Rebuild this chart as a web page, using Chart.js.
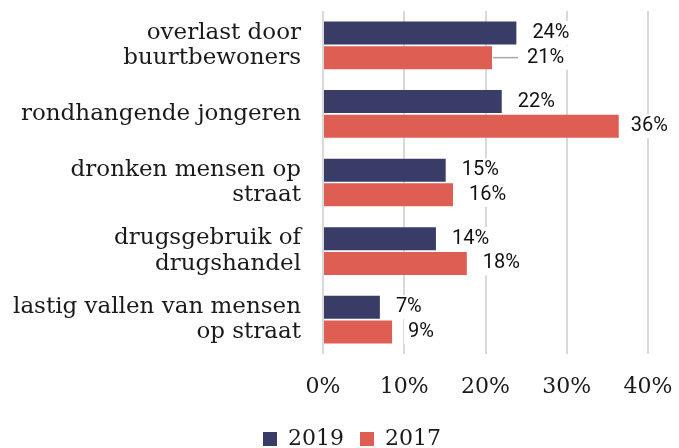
<!DOCTYPE html>
<html>
<head>
<meta charset="utf-8">
<script src="https://cdn.jsdelivr.net/npm/chart.js@4.4.1/dist/chart.umd.min.js"></script>
<style>
  body { margin: 0; background: #fff; }
  #wrap { width: 679px; height: 448px; }
</style>
</head>
<body>
<div id="wrap"><canvas id="chart"></canvas></div>
<script>
// data
const categories = [
  ['overlast door', 'buurtbewoners'],
  'rondhangende jongeren',
  ['dronken mensen op', 'straat'],
  ['drugsgebruik of', 'drugshandel'],
  ['lastig vallen van mensen', 'op straat']
];
const values2019 = [23.8, 22, 15.1, 13.9, 7];
const values2017 = [20.8, 36.4, 16, 17.7, 8.5];
const seriesNames = ['2019', '2017'];
const xMin = 0, xMax = 40, xStep = 10;

const serif = "'DejaVu Serif', serif";

// percentage labels next to the bars, on a white box
const barLabels = {
  id: 'barLabels',
  afterLayout(chart) {
    // legend sits a bit right of centre in the original
    chart.legend.left += 28;
    chart.legend.right += 28;
  },
  afterDatasetsDraw(chart) {
    const ctx = chart.ctx;
    ctx.save();
    ctx.font = '20px Roboto';
    ctx.textBaseline = 'middle';
    chart.data.datasets.forEach((ds, di) => {
      chart.getDatasetMeta(di).data.forEach((bar, i) => {
        const txt = Math.round(ds.data[i]) + '%';
        const w = ctx.measureText(txt).width;
        let x = bar.x + 16;
        const y = bar.y;
        if (di === 1 && i === 0) {
          // this one was pushed aside and has a leader line
          ctx.strokeStyle = '#a6a6a6';
          ctx.lineWidth = 1.5;
          ctx.beginPath();
          ctx.moveTo(bar.x + 1, y);
          ctx.lineTo(bar.x + 26, y);
          ctx.stroke();
          x = bar.x + 35;
        }
        x = Math.min(x, chart.width - 11 - w);
        ctx.fillStyle = '#fff';
        ctx.fillRect(x - 4, y - 12, w + 8, 24);
        ctx.fillStyle = '#111';
        ctx.fillText(txt, x, y);
      });
    });
    ctx.restore();
  }
};

new Chart(document.getElementById('chart').getContext('2d'), {
  type: 'bar',
  data: {
    labels: categories,
    datasets: [
      { label: seriesNames[0], data: values2019, backgroundColor: '#393c67' },
      { label: seriesNames[1], data: values2017, backgroundColor: '#df5e53' }
    ]
  },
  options: {
    indexAxis: 'y',
    responsive: true,
    maintainAspectRatio: false,
    animation: false,
    categoryPercentage: 0.72,
    barPercentage: 0.93,
    layout: { padding: { top: 11, right: 31, left: 0, bottom: -12 } },
    scales: {
      x: {
        min: xMin,
        max: xMax,
        ticks: {
          stepSize: xStep,
          padding: 20,
          color: '#1a1a1a',
          font: { family: serif, size: 22 },
          callback: v => v + '%'
        },
        grid: { color: '#d9d9d9', lineWidth: 2, drawTicks: false },
        border: { display: false },
        afterFit: s => { s.height = 58; s.paddingLeft = 0; s.paddingRight = 0; }
      },
      y: {
        ticks: {
          padding: 22,
          color: '#1a1a1a',
          font: { family: serif, size: 23, lineHeight: 1.1 }
        },
        grid: { display: false, drawTicks: false },
        border: { display: false },
        afterFit: s => { s.width = 323; s.paddingTop = 0; s.paddingBottom = 0; }
      }
    },
    plugins: {
      legend: {
        position: 'bottom',
        labels: {
          boxWidth: 14,
          boxHeight: 14,
          padding: 16,
          color: '#1a1a1a',
          font: { family: serif, size: 22 }
        }
      },
      tooltip: { enabled: false }
    }
  },
  plugins: [barLabels]
});
</script>
</body>
</html>
